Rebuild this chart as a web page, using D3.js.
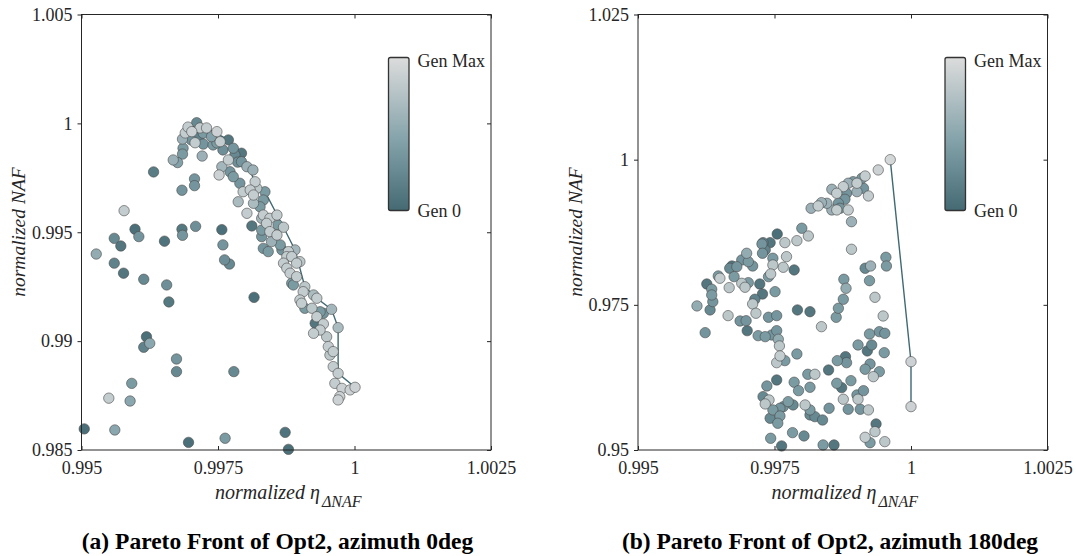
<!DOCTYPE html>
<html>
<head>
<meta charset="utf-8">
<script src="https://cdn.jsdelivr.net/npm/d3@7"></script>
<style>
  body { margin: 0; background: #fff; }
  svg { display: block; font-family: "Liberation Serif", "Times New Roman", serif; }
</style>
</head>
<body>
<svg id="chart" width="1076" height="556"></svg>
<script>
// ---- data (a) azimuth 0deg ----
var leftX = [0.99578,0.99598,0.99605,0.99560,0.99572,0.99527,0.99560,0.99577,0.99614,0.99652,
  0.99656,0.99660,0.99619,0.99614,0.99625,0.99674,0.99674,0.99592,0.99550,0.99589,
  0.99505,0.99561,0.99816,0.99779,0.99696,0.99763,0.99873,0.99879,0.99632,0.99684,
  0.99685,0.99709,0.99684,0.99707,0.99707,0.99757,0.99759,0.99762,0.99771,0.99668,
  0.99676,0.99721,0.99752,
  0.99711,0.99702,0.99690,0.99708,0.99686,0.99723,0.99738,0.99748,0.99754,0.99769,
  0.99723,0.99741,0.99778,0.99793,0.99781,0.99769,0.99793,0.99803,0.99757,0.99814,
  0.99772,0.99778,0.99790,0.99818,0.99836,0.99796,0.99809,0.99821,0.99815,0.99833,
  0.99787,0.99815,0.99803,0.99827,0.99833,0.99845,0.99858,0.99830,0.99812,0.99839,
  0.99830,0.99845,0.99858,0.99870,0.99860,0.99830,0.99848,0.99833,0.99842,0.99864,
  0.99867,0.99879,0.99891,0.99876,0.99885,0.99870,0.99894,0.99900,0.99876,0.99882,
  0.99894,0.99885,0.99888,0.99909,0.99906,0.99925,0.99900,0.99903,0.99931,0.99909,
  0.99922,0.99937,0.99943,0.99958,0.99931,0.99928,0.99943,0.99937,0.99925,0.99949,
  0.99970,0.99952,0.99961,0.99955,0.99961,0.99970,0.99964,0.99977,0.99973,0.99992,
  1.00001,0.99970,0.99685,0.99685,0.99695,0.99717,0.99729,0.99701,0.99715,0.99759,
  0.99786,0.99748];
var leftY = [0.99599,0.99514,0.99480,0.99472,0.99437,0.99400,0.99358,0.99312,0.99284,0.99459,
  0.99258,0.99180,0.99020,0.98972,0.98990,0.98918,0.98860,0.98806,0.98738,0.98725,
  0.98597,0.98592,0.99201,0.98860,0.98535,0.98554,0.98581,0.98503,0.99777,0.99514,
  0.99486,0.99527,0.99693,0.99745,0.99714,0.99512,0.99442,0.99373,0.99354,0.99832,
  0.99820,0.99850,0.99763,
  1.00003,0.99962,0.99956,0.99911,0.99886,0.99955,0.99939,0.99962,0.99916,0.99924,
  0.99905,0.99901,0.99886,0.99863,0.99855,0.99832,0.99824,0.99801,0.99801,0.99786,
  0.99778,0.99755,0.99725,0.99732,0.99686,0.99686,0.99694,0.99702,0.99671,0.99648,
  0.99640,0.99633,0.99587,0.99617,0.99579,0.99564,0.99579,0.99564,0.99529,0.99541,
  0.99510,0.99503,0.99487,0.99523,0.99533,0.99480,0.99457,0.99426,0.99411,0.99442,
  0.99419,0.99411,0.99419,0.99388,0.99388,0.99358,0.99358,0.99365,0.99335,0.99312,
  0.99296,0.99266,0.99258,0.99250,0.99227,0.99212,0.99189,0.99174,0.99197,0.99151,
  0.99151,0.99135,0.99128,0.99146,0.99112,0.99082,0.99079,0.99051,0.99036,0.99020,
  0.99062,0.98975,0.98952,0.98936,0.98883,0.98852,0.98806,0.98783,0.98745,0.98776,
  0.98788,0.98730,0.99928,0.99859,0.99983,0.99979,0.99979,0.99924,0.99938,0.99878,
  0.99822,0.99910];
var leftGen = [0.85,0.05,0.35,0.25,0.1,0.55,0.2,0.1,0.25,0.08,
  0.3,0.12,0.05,0.2,0.5,0.35,0.25,0.4,0.85,0.5,
  0.05,0.5,0.05,0.25,0.05,0.4,0.08,0.05,0.15,0.12,
  0.35,0.3,0.35,0.35,0.35,0.05,0.35,0.3,0.25,0.6,
  0.45,0.6,0.9,
  0.25,0.9,0.85,0.85,0.4,0.4,0.45,0.9,0.85,0.1,
  0.35,0.4,0.35,0.1,0.25,0.85,0.35,0.6,0.65,0.6,
  0.35,0.4,0.35,0.85,0.4,0.85,0.85,0.8,0.85,0.4,
  0.7,0.7,0.85,0.4,0.85,0.85,0.85,0.65,0.1,0.85,
  0.4,0.85,0.85,0.8,0.4,0.35,0.6,0.35,0.4,0.4,
  0.35,0.85,0.65,0.85,0.85,0.85,0.85,0.8,0.85,0.85,
  0.85,0.4,0.4,0.8,0.85,0.7,0.85,0.85,0.85,0.4,
  0.8,0.4,0.35,0.65,0.85,0.1,0.85,0.85,0.85,0.8,
  0.7,0.85,0.85,0.8,0.85,0.85,0.85,0.9,0.9,0.9,
  0.9,0.9,0.6,0.4,0.85,0.85,0.85,0.35,0.2,0.3,
  0.3,0.4];
var leftFrontX = [0.99711,0.99769,0.99793,0.99818,0.99836,0.99870,0.99891,0.99909,0.99931,0.99958,0.99970,0.99970,1.00001];
var leftFrontY = [1.00003,0.99924,0.99863,0.99732,0.99686,0.99523,0.99419,0.99250,0.99197,0.99146,0.99062,0.98852,0.98788];

// ---- data (b) azimuth 180deg ----
var rightX = [0.99962,0.99940,0.99916,0.99901,0.99910,0.99894,0.99885,0.99876,0.99864,0.99855,
  0.99882,0.99901,0.99913,0.99922,0.99879,0.99867,0.99864,0.99855,0.99885,0.99870,
  0.99846,0.99836,0.99830,0.99817,0.99891,0.99891,0.99800,0.99812,0.99791,0.99769,
  0.99755,0.99742,0.99729,0.99727,0.99733,0.99728,0.99747,0.99772,0.99766,0.99747,
  0.99786,0.99699,0.99690,0.99672,0.99668,0.99681,0.99710,0.99676,0.99650,0.99647,
  0.99626,0.99635,0.99635,0.99637,0.99632,0.99608,0.99667,0.99690,0.99702,0.99696,
  0.99743,0.99739,0.99723,0.99728,0.99714,0.99710,0.99716,0.99751,0.99739,0.99754,
  0.99792,0.99815,0.99665,0.99687,0.99698,0.99700,0.99623,0.99720,0.99733,0.99745,
  0.99754,0.99757,0.99759,0.99760,0.99754,0.99769,0.99791,0.99836,0.99863,0.99867,
  0.99876,0.99881,0.99877,0.99916,0.99926,0.99924,0.99934,0.99954,0.99955,0.99949,
  0.99924,0.99942,0.99952,0.99903,0.99920,0.99928,0.99951,0.99925,0.99916,0.99942,
  0.99931,0.99865,0.99880,0.99882,0.99849,0.99824,0.99811,0.99754,0.99736,0.99786,
  0.99794,0.99815,0.99864,0.99873,0.99890,0.99901,0.99913,0.99903,0.99876,0.99729,
  0.99740,0.99733,0.99775,0.99766,0.99760,0.99747,0.99784,0.99806,0.99815,0.99815,
  0.99824,0.99838,0.99850,0.99885,0.99907,0.99922,0.99742,0.99760,0.99756,0.99936,
  0.99934,0.99916,0.99925,0.99952,0.99783,0.99804,0.99743,0.99763,0.99839,0.99859,
  1.00000,1.00000,0.99702];
var rightY = [1.00000,0.99823,0.99719,0.99594,0.99680,0.99621,0.99594,0.99535,0.99421,0.99490,
  0.99421,0.99449,0.99507,0.99375,0.99318,0.99249,0.99134,0.99134,0.99134,0.99163,
  0.99249,0.99260,0.99203,0.99163,0.98932,0.98457,0.98819,0.98686,0.98605,0.98571,
  0.98720,0.98571,0.98571,0.98548,0.98445,0.98388,0.98302,0.98330,0.98147,0.98187,
  0.98101,0.98388,0.98273,0.98169,0.98130,0.98157,0.98169,0.97985,0.97958,0.97997,
  0.97859,0.97768,0.97670,0.97555,0.97412,0.97481,0.97796,0.97871,0.97882,0.97803,
  0.98032,0.97985,0.97859,0.97687,0.97596,0.97515,0.97355,0.97727,0.97286,0.97314,
  0.97412,0.97382,0.97314,0.97222,0.97227,0.97055,0.97021,0.96969,0.96952,0.96981,
  0.97055,0.96907,0.96792,0.96620,0.96504,0.96539,0.96654,0.97124,0.97286,0.97441,
  0.97596,0.97785,0.97940,0.98130,0.98169,0.97916,0.97630,0.98319,0.98169,0.97308,
  0.96998,0.97038,0.97010,0.96809,0.96706,0.96809,0.96676,0.96482,0.96391,0.96349,
  0.96263,0.96539,0.96608,0.96504,0.96378,0.96304,0.96304,0.96206,0.96103,0.96167,
  0.96022,0.96081,0.96149,0.96074,0.96194,0.95948,0.96022,0.95874,0.95874,0.95919,
  0.95862,0.95793,0.95833,0.95746,0.95719,0.95690,0.95776,0.95776,0.95690,0.95604,
  0.95574,0.95517,0.95719,0.95702,0.95702,0.95690,0.95547,0.95586,0.95461,0.95449,
  0.95316,0.95219,0.95126,0.95144,0.95299,0.95242,0.95202,0.95070,0.95087,0.95087,
  0.96521,0.95747,0.98243];
var rightGen = [0.95,0.9,0.85,0.85,0.4,0.4,0.6,0.85,0.85,0.6,
  0.35,0.6,0.35,0.85,0.35,0.35,0.85,0.6,0.85,0.35,
  0.6,0.6,0.85,0.6,0.6,0.8,0.4,0.8,0.8,0.8,
  0.05,0.1,0.2,0.35,0.2,0.35,0.4,0.8,0.8,0.8,
  0.1,0.55,0.35,0.1,0.25,0.35,0.35,0.4,0.85,0.4,
  0.1,0.4,0.4,0.35,0.25,0.55,0.8,0.8,0.4,0.8,
  0.8,0.4,0.1,0.1,0.2,0.8,0.8,0.4,0.35,0.35,
  0.1,0.1,0.8,0.35,0.35,0.1,0.35,0.4,0.4,0.35,
  0.35,0.55,0.8,0.85,0.8,0.4,0.4,0.8,0.4,0.4,
  0.4,0.55,0.4,0.25,0.6,0.4,0.8,0.4,0.4,0.8,
  0.4,0.35,0.35,0.4,0.1,0.25,0.4,0.35,0.4,0.4,
  0.8,0.4,0.1,0.35,0.1,0.8,0.4,0.1,0.35,0.4,
  0.4,0.4,0.4,0.1,0.4,0.35,0.35,0.8,0.8,0.25,
  0.8,0.8,0.4,0.35,0.35,0.4,0.25,0.8,0.4,0.25,
  0.25,0.25,0.35,0.35,0.35,0.8,0.25,0.4,0.4,0.1,
  0.8,0.85,0.4,0.8,0.4,0.25,0.4,0.1,0.4,0.1,
  0.9,0.9,0.4];
var rightFrontX = [0.99962,1.00000,1.00000];
var rightFrontY = [1.00000,0.96521,0.95747];

// ---- ticks ----
var xTicks = [0.995, 0.9975, 1, 1.0025];
var xTickLabels = ["0.995", "0.9975", "1", "1.0025"];
var leftYTicks = [0.985, 0.99, 0.995, 1, 1.005];
var leftYTickLabels = ["0.985", "0.99", "0.995", "1", "1.005"];
var rightYTicks = [0.95, 0.975, 1, 1.025];
var rightYTickLabels = ["0.95", "0.975", "1", "1.025"];

var svg = d3.select("#chart");
var ink = "#262626";

var genColor = d3.scaleLinear()
    .domain([0, 0.45, 1])
    .range(["#456a73", "#82a1a9", "#dcdcdc"])
    .interpolate(d3.interpolateRgb);

// shared colorbar gradient
var grad = svg.append("defs").append("linearGradient")
    .attr("id", "genGrad")
    .attr("x1", 0).attr("y1", 1).attr("x2", 0).attr("y2", 0);
[0, 0.25, 0.45, 0.7, 1].forEach(function(t) {
  grad.append("stop").attr("offset", t).attr("stop-color", genColor(t));
});

function drawPanel(p) {
  var x = d3.scaleLinear().domain([0.995, 1.0025]).range([p.left, p.left + 409.5]);
  var y = d3.scaleLinear().domain([p.yTicks[0], p.yTicks[p.yTicks.length - 1]]).range([450, 14.5]);
  var g = svg.append("g");

  var pts = p.xs.map(function(v, i) { return {x: v, y: p.ys[i], gen: p.gen[i]}; });
  pts.sort(function(a, b) { return a.gen - b.gen; });

  // pareto front line
  var front = p.fx.map(function(v, i) { return [v, p.fy[i]]; });
  g.append("path")
      .datum(front)
      .attr("fill", "none")
      .attr("stroke", "#3f6973")
      .attr("stroke-width", 1.4)
      .attr("d", d3.line().x(function(d) { return x(d[0]); }).y(function(d) { return y(d[1]); }));

  g.selectAll("circle.pt")
      .data(pts)
      .enter()
      .append("circle")
      .attr("class", "pt")
      .attr("r", 5.2)
      .attr("cx", function(d) { return x(d.x); })
      .attr("cy", function(d) { return y(d.y); })
      .attr("fill", function(d) { return genColor(d.gen); })
      .attr("stroke", "#4a4a4a")
      .attr("stroke-width", 0.6);

  // frame
  g.append("rect")
      .attr("x", x.range()[0]).attr("y", y.range()[1])
      .attr("width", x.range()[1] - x.range()[0])
      .attr("height", y.range()[0] - y.range()[1])
      .attr("fill", "none")
      .attr("stroke", ink)
      .attr("stroke-width", 1);

  var axes = [
    {ax: d3.axisBottom(x).tickValues(xTicks).tickSize(-4).tickPadding(11)
        .tickFormat(function(d, i) { return xTickLabels[i]; }), t: "translate(0,450)"},
    {ax: d3.axisTop(x).tickValues(xTicks).tickSize(-4).tickFormat(""), t: "translate(0,14.5)"},
    {ax: d3.axisLeft(y).tickValues(p.yTicks).tickSize(4).tickPadding(5)
        .tickFormat(function(d, i) { return p.yLabels[i]; }), t: "translate(" + p.left + ",0)"},
    {ax: d3.axisRight(y).tickValues(p.yTicks).tickSize(-4).tickFormat(""), t: "translate(" + (p.left + 409.5) + ",0)"}
  ];
  axes.forEach(function(a) {
    var ag = g.append("g").attr("transform", a.t).call(a.ax.tickSizeOuter(0));
    ag.select(".domain").remove();
    ag.selectAll("line").attr("stroke", ink);
    ag.selectAll("text")
        .attr("fill", ink)
        .style("font-family", "'Liberation Serif', 'Times New Roman', serif")
        .style("font-size", "18px");
  });

  // axis titles
  var cx = p.left + 409.5 / 2 + 2;
  var xt = g.append("text")
      .attr("x", cx).attr("y", 499)
      .attr("text-anchor", "middle")
      .attr("fill", ink)
      .style("font-style", "italic")
      .style("font-size", "20px");
  xt.append("tspan").text("normalized η");
  xt.append("tspan").attr("dx", 2).attr("dy", 8).style("font-size", "16px").text("ΔNAF");

  g.append("text")
      .attr("transform", "translate(" + (p.left - 56.5) + ",232) rotate(-90)")
      .attr("text-anchor", "middle")
      .attr("fill", ink)
      .style("font-style", "italic")
      .style("font-size", "19.5px")
      .text("normalized NAF");

  // colorbar
  var cbx = p.left + 307;
  g.append("rect")
      .attr("x", cbx).attr("y", 57.5)
      .attr("width", 20.5).attr("height", 153)
      .attr("rx", 2)
      .attr("fill", "url(#genGrad)")
      .attr("stroke", "#333")
      .attr("stroke-width", 1.3);
  g.append("text").attr("x", cbx + 29).attr("y", 66.5)
      .attr("fill", ink).style("font-size", "18px").text("Gen Max");
  g.append("text").attr("x", cbx + 29).attr("y", 217)
      .attr("fill", ink).style("font-size", "18px").text("Gen 0");

  // caption
  svg.append("text")
      .attr("x", p.capX).attr("y", 549)
      .attr("text-anchor", "middle")
      .attr("fill", "#000")
      .style("font-weight", "bold")
      .style("font-size", "23.5px")
      .text(p.caption);
}

drawPanel({left: 81.5, xs: leftX, ys: leftY, gen: leftGen, fx: leftFrontX, fy: leftFrontY,
  yTicks: leftYTicks, yLabels: leftYTickLabels, capX: 277.5,
  caption: "(a) Pareto Front of Opt2, azimuth 0deg"});
drawPanel({left: 638, xs: rightX, ys: rightY, gen: rightGen, fx: rightFrontX, fy: rightFrontY,
  yTicks: rightYTicks, yLabels: rightYTickLabels, capX: 830,
  caption: "(b) Pareto Front of Opt2, azimuth 180deg"});
</script>
</body>
</html>
